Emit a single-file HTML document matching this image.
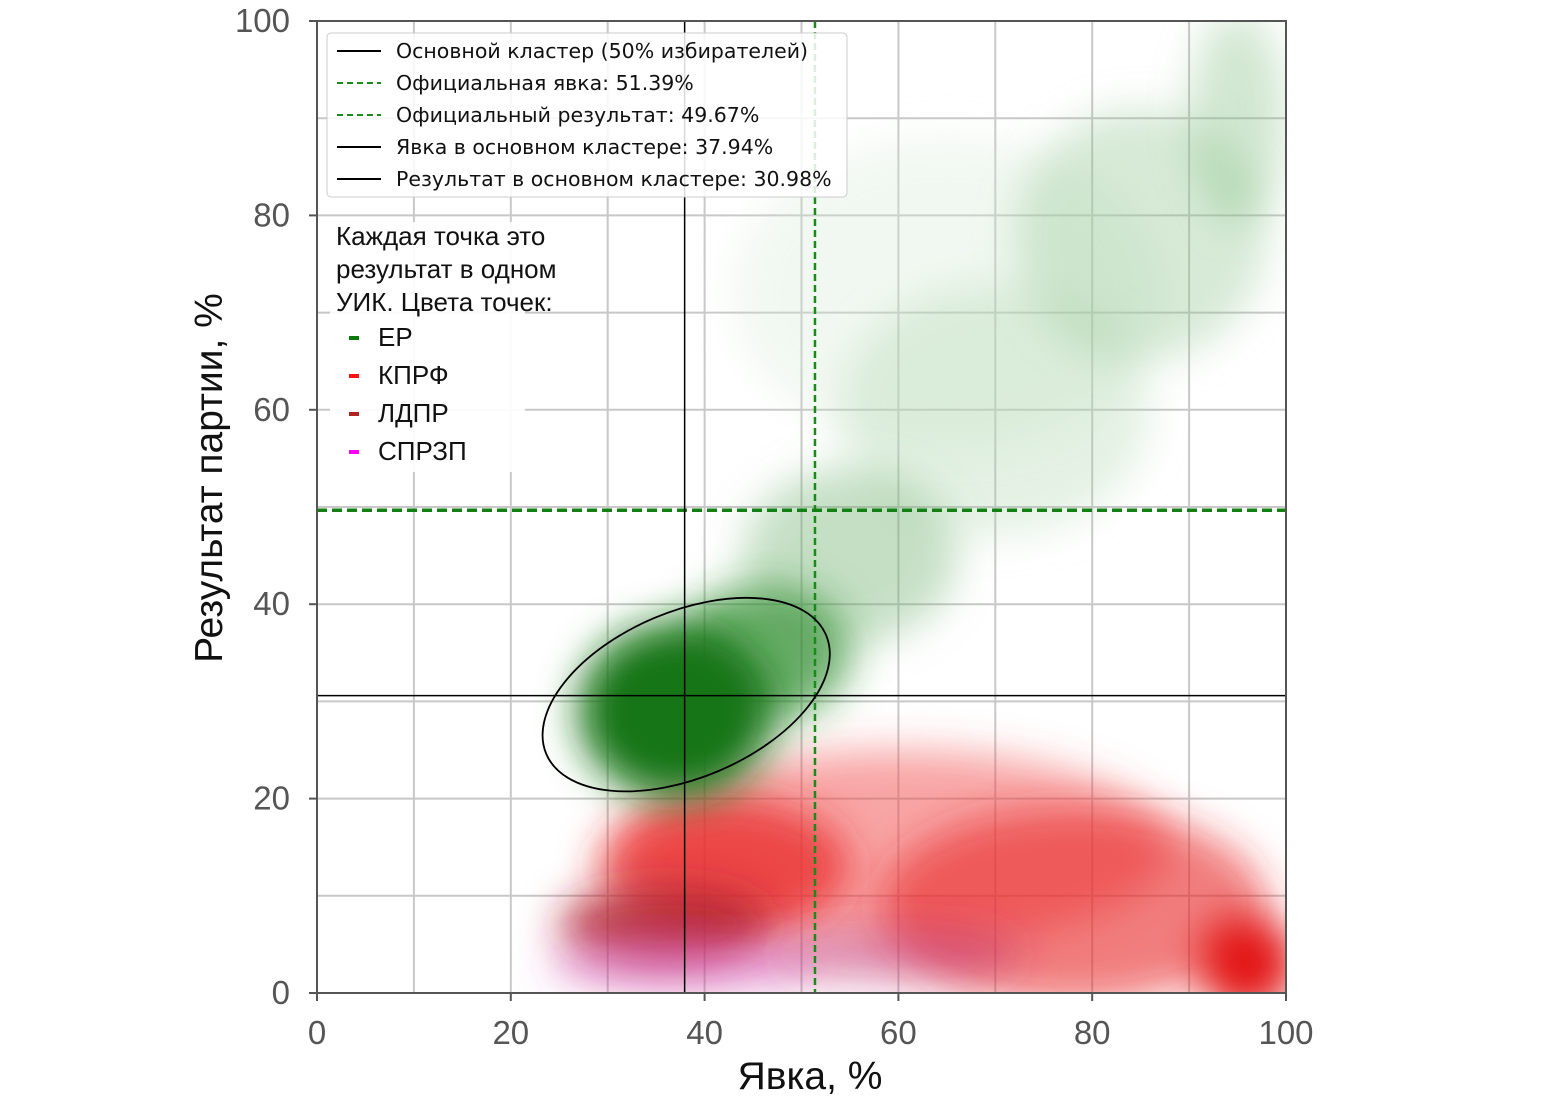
<!DOCTYPE html>
<html><head><meta charset="utf-8">
<style>
html,body{margin:0;padding:0;background:#fff;}
svg{display:block;font-family:"Liberation Sans","DejaVu Sans",sans-serif;}
</style></head>
<body>
<svg id="chart" width="1564" height="1105" viewBox="0 0 1564 1105" xmlns="http://www.w3.org/2000/svg">
<defs>
<filter id="blur" x="-50%" y="-50%" width="200%" height="200%"><feGaussianBlur stdDeviation="20"/></filter>
<clipPath id="plotclip"><rect x="317" y="21" width="969" height="972"/></clipPath>
</defs>
<g id="grid"></g>
<g id="clouds" clip-path="url(#plotclip)"></g>
<g id="lines"></g>
<g id="axes"></g>
<g id="legend">
  <rect x="327" y="33" width="520" height="164" rx="4" fill="#fff" fill-opacity="0.85" stroke="#ccc"/>
  <g font-family="'DejaVu Sans',sans-serif" font-size="20.5" fill="#111">
    <line x1="337" y1="51" x2="381" y2="51" stroke="#000" stroke-width="2"/>
    <text x="396" y="58">Основной кластер (50% избирателей)</text>
    <line x1="337" y1="83" x2="381" y2="83" stroke="#1a8a1a" stroke-width="2" stroke-dasharray="6,4"/>
    <text x="396" y="90">Официальная явка: 51.39%</text>
    <line x1="337" y1="115" x2="381" y2="115" stroke="#1a8a1a" stroke-width="2" stroke-dasharray="6,4"/>
    <text x="396" y="122">Официальный результат: 49.67%</text>
    <line x1="337" y1="147" x2="381" y2="147" stroke="#000" stroke-width="2"/>
    <text x="396" y="154">Явка в основном кластере: 37.94%</text>
    <line x1="337" y1="179" x2="381" y2="179" stroke="#000" stroke-width="2"/>
    <text x="396" y="186">Результат в основном кластере: 30.98%</text>
  </g>
</g>
<g id="note">
  <rect x="330" y="222" width="195" height="250" fill="#fff" fill-opacity="0.9"/>
  <g font-size="26" fill="#111">
    <text x="336" y="245">Каждая точка это</text>
    <text x="336" y="278">результат в одном</text>
    <text x="336" y="311">УИК. Цвета точек:</text>
    <rect x="349" y="336" width="10" height="4" fill="#0a7a0a"/><text x="378" y="346">ЕР</text>
    <rect x="349" y="374" width="10" height="4" fill="#ff1010"/><text x="378" y="384">КПРФ</text>
    <rect x="349" y="412" width="10" height="4" fill="#b22222"/><text x="378" y="422">ЛДПР</text>
    <rect x="349" y="450" width="10" height="4" fill="#ff00ff"/><text x="378" y="460">СПРЗП</text>
  </g>
</g>
</svg>
<script>
// Axis ticks
const xTicks = [0,20,40,60,80,100];
const yTicks = [0,20,40,60,80,100];
const gridVals = [10,20,30,40,50,60,70,80,90];
// Reference values
const officialTurnout = 51.39;
const officialResult = 49.67;
const clusterTurnout = 37.94;
const clusterResult = 30.6;
const clusterEllipse = [38.1, 30.7]; // center
// Density clouds: center x, center y, spread x, spread y
const cloudX =  [65, 70, 85, 95, 55, 60, 78, 96, 42, 36, 38, 60, 46, 37];
const cloudY =  [72, 60, 78, 90, 45, 15, 9,  3,  13, 7,  3,  4,  35, 29];
const cloudSX = [22, 16, 13, 5,  11, 28, 20, 5,  13, 11, 14, 13, 9,  10];
const cloudSY = [16, 13, 13, 11, 9,  10, 10, 5,  7,  4,  2.5,3,  7,  9];
const cloudColor = ['#d0e8d0','#a6d2a6','#8cc48c','#7aba7a','#6eb06e','#f24a4a','#e82a2a','#e00000','#e82828','#b02030','#d040b0','#c03070','#2a8a2a','#157515'];
const cloudOpacity = [0.3,0.3,0.35,0.35,0.4,0.5,0.6,0.9,0.75,0.85,0.55,0.5,0.7,1.0];

const X0=317,X1=1286,Y0=993,Y1=21;
const xs=v=>X0+(X1-X0)*v/100;
const ys=v=>Y0-(Y0-Y1)*v/100;
const NS='http://www.w3.org/2000/svg';
function mk(tag,attrs,parent){const e=document.createElementNS(NS,tag);for(const k in attrs)e.setAttribute(k,attrs[k]);parent.appendChild(e);return e;}

const grid=document.getElementById('grid');
gridVals.forEach(v=>{
  const a=mk('line',{x1:xs(v),x2:xs(v),y1:Y1,y2:Y0,stroke:'#c8c8c8','stroke-width':2},grid);
  
  
  const b=mk('line',{x1:X0,x2:X1,y1:ys(v),y2:ys(v),stroke:'#c8c8c8','stroke-width':2},grid);
  
  
});

const clouds=document.getElementById('clouds');
for(let i=0;i<cloudX.length;i++){
  const rx=(xs(cloudSX[i])-xs(0)), ry=(ys(0)-ys(cloudSY[i]));
  const e=mk('ellipse',{cx:xs(cloudX[i]),cy:ys(cloudY[i]),rx:rx,ry:ry,fill:cloudColor[i],'fill-opacity':cloudOpacity[i],filter:'url(#blur)'},clouds);
  
  
}

const lines=document.getElementById('lines');
let l;
l=mk('line',{x1:xs(officialTurnout),x2:xs(officialTurnout),y1:Y1,y2:Y0,stroke:'#1a8a1a','stroke-width':2.5,'stroke-dasharray':'7,4'},lines);


l=mk('line',{x1:X0,x2:X1,y1:ys(officialResult),y2:ys(officialResult),stroke:'#128012','stroke-width':3.5,'stroke-dasharray':'10,5'},lines);


l=mk('line',{x1:xs(clusterTurnout),x2:xs(clusterTurnout),y1:Y1,y2:Y0,stroke:'#000','stroke-width':1.5},lines);


l=mk('line',{x1:X0,x2:X1,y1:ys(clusterResult),y2:ys(clusterResult),stroke:'#000','stroke-width':1.5},lines);


l=mk('ellipse',{cx:xs(clusterEllipse[0]),cy:ys(clusterEllipse[1]),rx:152,ry:83,fill:'none',stroke:'#000','stroke-width':1.8,transform:`rotate(-23 ${xs(clusterEllipse[0])} ${ys(clusterEllipse[1])})`},lines);



const axes=document.getElementById('axes');
l=mk('rect',{x:X0,y:Y1,width:X1-X0,height:Y0-Y1,fill:'none',stroke:'#555','stroke-width':2},axes);


xTicks.forEach(v=>{
  const t=mk('line',{x1:xs(v),x2:xs(v),y1:Y0,y2:Y0+8,stroke:'#555','stroke-width':2},axes);
  
  
  const tx=mk('text',{x:xs(v),y:1044,'text-anchor':'middle','font-size':33,fill:'#555'},axes);
  tx.textContent=v;
  
  
});
yTicks.forEach(v=>{
  const t=mk('line',{x1:X0-8,x2:X0,y1:ys(v),y2:ys(v),stroke:'#555','stroke-width':2},axes);
  
  
  const tx=mk('text',{x:290,y:ys(v)+11,'text-anchor':'end','font-size':33,fill:'#555'},axes);
  tx.textContent=v;
  
  
});
let tt=mk('text',{x:810,y:1089,'text-anchor':'middle','font-size':39,fill:'#111'},axes);
tt.textContent='Явка, %';


tt=mk('text',{x:0,y:0,'text-anchor':'middle','font-size':39,fill:'#111',transform:'translate(222 478) rotate(-90)'},axes);
tt.textContent='Результат партии, %';


</script>
</body></html>
